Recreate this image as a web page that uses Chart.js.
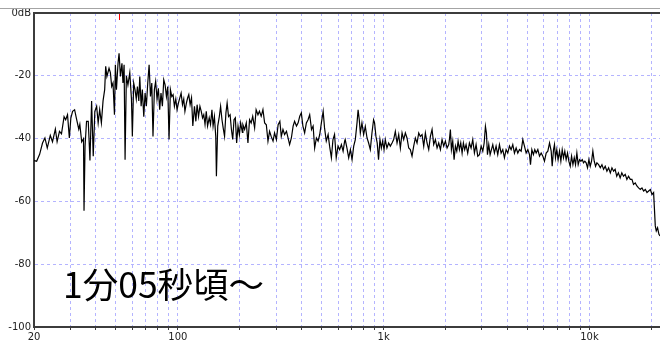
<!DOCTYPE html>
<html lang="ja">
<head>
  <meta charset="UTF-8">
  <title>Spectrum</title>
  <script src="https://cdn.jsdelivr.net/npm/chart.js"></script>
  <style>
    body { margin: 0; background: #fff; }
    #wrap { position: relative; width: 660px; height: 343px; }
    #stamp {
      position: absolute; left: 63px; top: 265px;
      font-family: "Noto Sans CJK JP", sans-serif; font-size: 35.5px; line-height: 35.5px;
      color: #000; white-space: nowrap;
    }
  </style>
</head>
<body>
  <div id="wrap">
    <canvas id="spec" width="660" height="343"></canvas>
    <div id="stamp">1分05秒頃～</div>
  </div>

  <script>
    // spectrum bins (Hz) and level (dB)
    const freqHz = [
      20, 20.6, 21.3, 22.0, 22.6, 23.2, 24.0, 24.6, 25.4, 25.9, 26.6, 27.2, 28.0, 28.5, 29.1, 29.7,
      30.2, 30.8, 31.5, 32.1, 33.0, 33.4, 34.1, 34.8, 35.0, 35.4, 36.0, 36.7, 37.4, 38.1, 38.8, 39.5,
      40.3, 41.0, 41.7, 42.5, 43.3, 44.1, 44.6, 45.2, 46.3, 47.0, 47.7, 48.4, 49.2, 49.7, 50.3, 51.2,
      51.8, 52.6, 53.5, 54.1, 54.8, 55.4, 56.2, 57.2, 58.4, 59.5, 60.1, 61.0, 61.9, 62.8,
      63.6, 64.6, 65.3, 66.3, 67.2, 68.3, 69.3, 70.3, 71.4, 72.5, 73.6, 74.7, 75.7, 76.9, 78.0, 79.2,
      80.4, 81.6, 82.8, 84.1, 85.4, 86.7, 88.0, 89.3, 90.6, 92.0, 93.4, 94.8, 96.2, 97.7, 99.1, 100.6,
      102.2, 103.7, 105.3, 106.8, 108.2, 110, 111.6, 113, 114.7, 116.5, 118.2, 120.4, 122.3, 124, 126, 128,
      129.9, 131.8, 133.6, 135.5, 137.4, 139.4, 142, 144.1, 146.4, 148.3, 150.5, 152.8, 153.9, 156.2, 159, 161.3,
      163.8, 166, 168.6, 171.2, 173.5, 176.3, 179.4, 182, 184.7, 187.4, 190.2, 193, 196, 199, 201.8, 205.8,
      207, 211, 215, 219, 223, 227, 231, 236, 240, 245, 249, 254, 259, 264, 269, 274,
      279, 284, 290, 295, 301, 307, 313, 318, 324, 330, 337, 343, 349, 356, 363, 369,
      377, 384, 391, 398, 405, 413, 421, 429, 437, 446, 454, 462, 471, 480, 489, 498,
      508, 516, 526, 537, 546, 557, 567, 577, 588, 600, 611, 623, 635, 646,
      650, 663, 676, 689, 702, 715, 728, 742, 751, 761, 770, 784, 799, 814, 830, 845,
      861, 877, 893, 903, 917, 930, 944, 959, 974, 988, 1004, 1018, 1037, 1057, 1077, 1098,
      1118, 1139, 1161, 1183, 1205, 1228, 1251, 1274, 1298, 1323, 1347, 1373, 1399, 1425, 1452, 1480,
      1507, 1536, 1565, 1594, 1624, 1655, 1686, 1718, 1750, 1783, 1817, 1851, 1886, 1921, 1957, 1994,
      2032, 2070,
      2086, 2109, 2133, 2165, 2198, 2231, 2265, 2299, 2333, 2368, 2404, 2439, 2475, 2513, 2560, 2609,
      2658, 2708, 2759, 2811, 2864, 2919, 2974, 3030, 3077, 3121, 3156, 3192, 3240, 3289, 3338, 3388,
      3451, 3516, 3582, 3651, 3720, 3790, 3860, 3933, 4007, 4084, 4160, 4238, 4318, 4400, 4483, 4568,
      4654, 4741, 4829, 4922, 5015, 5110, 5167, 5245, 5337, 5421, 5505, 5609, 5715, 5822, 5932, 6041,
      6157, 6273, 6393, 6513, 6587,
      6685, 6757, 6833, 6933, 7037, 7150, 7257, 7367, 7474, 7584, 7698, 7817, 7935, 8060, 8180, 8305,
      8430, 8550, 8680, 8810, 8946, 9080, 9220, 9350, 9490, 9630, 9780, 9930, 10080, 10230, 10380, 10540,
      10700, 10860, 11070, 11280, 11490, 11700, 11920, 12150, 12380, 12620, 12850, 13090, 13320, 13560, 13810, 14090,
      14350, 14620, 14910, 15190, 15470, 15780, 16070, 16360, 16680, 16990, 17310, 17650, 17980, 18320, 18670, 19020,
      19380, 19750, 20120, 20480, 20640, 20870, 21100, 21410, 21740, 22000
    ];
    const levelDb = [
      -47, -47.2, -45, -41.4, -39.8, -43, -39, -41, -37, -41, -37.7, -38.5, -33, -34, -32.4, -39.8,
      -33.5, -31.3, -30.8, -33.4, -37, -35.5, -41, -40, -63, -42.5, -34.5, -34.5, -47, -28, -45.6, -31.3,
      -29.7, -35, -30.8, -35, -28, -24.4, -17, -20.2, -17.6, -19, -23.4, -22.3, -32.4, -16.5, -24.4, -16,
      -12.8, -20.2, -16, -22.3, -16.5, -46.7, -20, -22.9, -19, -27.4, -39.3, -22.3, -24.4, -27.4,
      -23.4, -28, -20.2, -29.7, -24.4, -33, -25.5, -29.7, -22.3, -16.5, -26.6, -22.3, -39.3, -24.4, -21.8, -27.4,
      -24, -30.8, -25.5, -29.7, -21.3, -22.9, -26.6, -23.4, -40.3, -24.4, -26.6, -26, -29.7, -27.4, -30.8, -28.7,
      -27, -25.5, -29.2, -27.4, -31.3, -28.7, -27, -26, -29.2, -27, -36, -29.7, -34.5, -29.2, -33, -29.7,
      -31.3, -33.4, -32.4, -35.5, -31.3, -36, -33.4, -35.5, -30.8, -36, -33, -39.3, -52, -36, -33, -29.7,
      -34, -36.6, -39.3, -31.8, -28.7, -33, -32.4, -37, -40.3, -34, -33.4, -41.4, -36, -38.8, -35, -38,
      -35.6, -37.1, -35, -41.4, -34, -35, -32.9, -36.6, -30.8, -32.4, -31.3, -32.9, -30.8, -35, -35.6, -40.8,
      -37.7, -39.3, -40.8, -38.2, -40.3, -35.6, -34.5, -39.3, -37.1, -38.7, -37.7, -39.8, -41.9, -39.8, -36, -34.5,
      -36, -35, -32.9, -31.8, -36, -38.2, -35, -34, -32.4, -37.1, -36, -43, -39.8, -40.8, -38.7, -35,
      -31.3, -36.6, -40.8, -38.7, -42.4, -46.1, -40.3, -38.7, -46.1, -42.4, -43.5, -41.9, -44, -40.8,
      -40.3, -43, -46.1, -43.5, -46.7, -42.4, -40.3, -35, -30.8, -34, -38.2, -35, -38.7, -36.1, -39.8, -41.4,
      -43.5, -38.2, -34, -35, -39.3, -41.4, -46.7, -40.3, -43, -40.8, -43.5, -40.3, -43, -41.4, -42.4, -41.4,
      -40.3, -37.7, -41.4, -38.7, -43, -38.2, -40.3, -38.2, -39.8, -43, -43.5, -45.6, -42.4, -39.8, -41.4, -38.2,
      -39.3, -38.7, -42.4, -38.2, -41.4, -43.5, -39.3, -37.1, -41.9, -40.3, -43, -41.4, -43.5, -40.3, -42.4, -40.8,
      -43, -41.9,
      -40.3, -37.1, -43.5, -40.8, -46.7, -42.4, -44, -40.8, -43.5, -41.4, -44.6, -41.4, -43.5, -41.9, -44.6, -41.4,
      -43, -40.3, -44.6, -41.9, -45.6, -45.1, -42.4, -44, -41.4, -36.1, -38.2, -45.1, -41.9, -45.1, -43.5, -41.9,
      -44.6, -42.4, -45.1, -41.9, -44.6, -43.5, -46.1, -43.5, -44.6, -42.4, -43.5, -41.9, -44.6, -43, -44.6, -43.5,
      -44, -40.3, -42.4, -44.6, -43.5, -45.1, -48.3, -43.5, -45.1, -43.5, -44.6, -43.5, -45.6, -44.6, -45.6, -47.2,
      -44.6, -44, -41.4, -44, -48.8,
      -43.5, -41.9, -46.1, -43.5, -46.7, -44, -47.2, -43.5, -46.1, -44, -46.7, -44.6, -47.2, -48.8, -45.6, -48.3,
      -46.1, -48.3, -44.6, -48.3, -46.7, -47.2, -46.7, -47.7, -47.2, -47.7, -49.3, -46.7, -48.8, -47.2, -44, -47.2,
      -48.8, -47.7, -48.3, -49.3, -48.3, -49.8, -48.8, -50.4, -49.3, -50.9, -49.3, -50.4, -49.8, -52, -50.9, -52.5,
      -50.9, -52, -51.4, -53, -52, -53, -53, -54.6, -54.1, -55.1, -55.7, -56.2, -55.7, -56.7, -56.2, -57.2,
      -56.7, -56.2, -57.8, -57.2, -61.5, -67.8, -69.4, -68.4, -70.5, -71
    ];

    // axis ticks
    const gridHz = [20, 30, 40, 50, 60, 70, 80, 90, 100, 200, 300, 400, 500, 600, 700, 800, 900,
      1000, 2000, 3000, 4000, 5000, 6000, 7000, 8000, 9000, 10000, 20000];
    const xLabels = { 20: '20', 100: '100', 1000: '1k', 10000: '10k' };
    const yTicks = [0, -20, -40, -60, -80, -100];
    const markerHz = 52;

    const gridColor = '#b4b4ff';
    const axisColor = '#3c3c3c';

    // frame on top, grey rule above it, red peak marker
    const framePlugin = {
      id: 'frame',
      afterDraw(chart) {
        const { ctx, chartArea: a } = chart;
        ctx.save();
        ctx.strokeStyle = '#a4a4a4';
        ctx.lineWidth = 1;
        ctx.beginPath();
        ctx.moveTo(0, 8.5);
        ctx.lineTo(chart.width, 8.5);
        ctx.stroke();
        ctx.strokeStyle = axisColor;
        ctx.lineWidth = 2;
        ctx.beginPath();
        ctx.moveTo(a.left - 1, a.top);
        ctx.lineTo(a.right, a.top);
        ctx.stroke();
        const mx = Math.round(chart.scales.x.getPixelForValue(markerHz)) + 0.5;
        ctx.strokeStyle = '#ff0000';
        ctx.lineWidth = 1;
        ctx.beginPath();
        ctx.moveTo(mx, a.top + 1);
        ctx.lineTo(mx, a.top + 7);
        ctx.stroke();
        ctx.restore();
      }
    };

    Chart.defaults.font.family = 'DejaVu Sans';
    Chart.defaults.font.size = 10;
    Chart.defaults.color = '#222';

    new Chart(document.getElementById('spec'), {
      type: 'line',
      data: {
        datasets: [{
          data: freqHz.map((f, i) => ({ x: f, y: levelDb[i] })),
          borderColor: '#000',
          borderWidth: 1.2,
          pointRadius: 0,
          tension: 0,
          fill: false
        }]
      },
      options: {
        responsive: false,
        animation: false,
        layout: { padding: { top: 13, right: 0, bottom: 0, left: 0 } },
        plugins: { legend: { display: false }, tooltip: { enabled: false } },
        scales: {
          x: {
            type: 'logarithmic',
            min: 20,
            max: 22000,
            afterBuildTicks: s => { s.ticks = gridHz.map(v => ({ value: v })); },
            afterFit: s => { s.height = 16; },
            ticks: {
              autoSkip: false,
              maxRotation: 0,
              padding: 1,
              callback: v => xLabels[v] || ''
            },
            grid: {
              color: gridColor,
              tickColor: axisColor,
              tickLength: 3,
              tickBorderDash: []
            },
            border: { color: axisColor, width: 2, dash: [3, 3] }
          },
          y: {
            min: -100,
            max: 0,
            afterBuildTicks: s => { s.ticks = yTicks.map(v => ({ value: v })); },
            afterFit: s => { s.width = 34; },
            ticks: {
              padding: 3,
              callback: v => (v === 0 ? '0dB' : v)
            },
            grid: { color: gridColor, drawTicks: false },
            border: { color: axisColor, width: 2, dash: [3, 3] }
          }
        }
      },
      plugins: [framePlugin]
    });
  </script>
</body>
</html>
